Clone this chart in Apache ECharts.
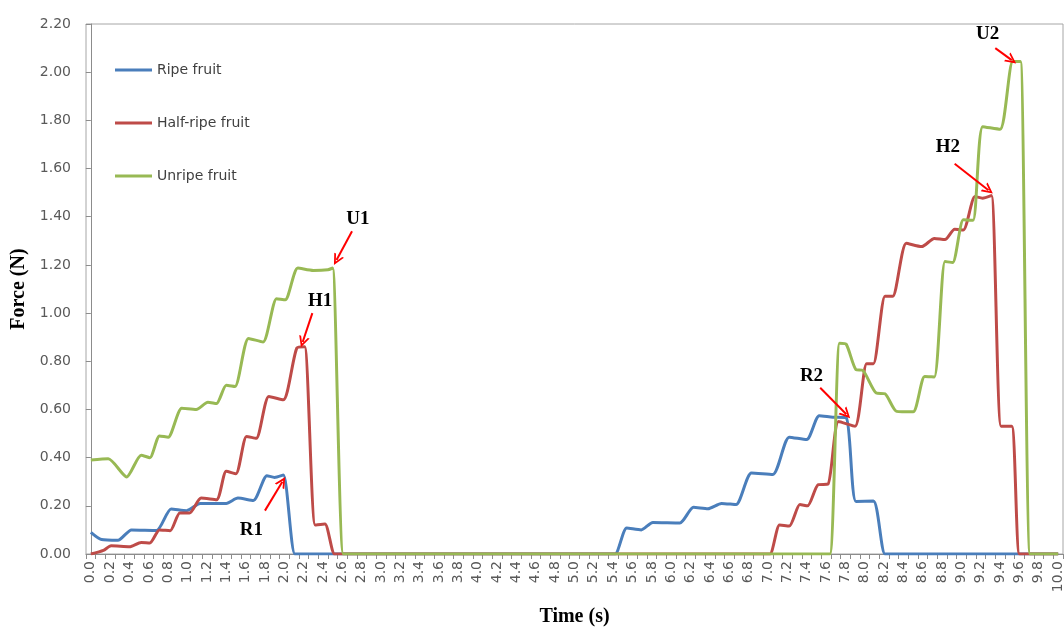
<!DOCTYPE html>
<html>
<head>
<meta charset="utf-8">
<script src="https://cdn.jsdelivr.net/npm/echarts@6.0.0/dist/echarts.min.js"></script>
<style>
  html, body { margin: 0; padding: 0; background: #fff; }
  #main { width: 1064px; height: 628px; }
</style>
</head>
<body>
<div id="main"></div>
<script>
// time labels on x axis (s)
var timeLabels = [0.0, 0.2, 0.4, 0.6, 0.8, 1.0, 1.2, 1.4, 1.6, 1.8, 2.0, 2.2, 2.4, 2.6, 2.8, 3.0, 3.2, 3.4, 3.6, 3.8,
    4.0, 4.2, 4.4, 4.6, 4.8, 5.0, 5.2, 5.4, 5.6, 5.8, 6.0, 6.2, 6.4, 6.6, 6.8, 7.0, 7.2, 7.4, 7.6, 7.8,
    8.0, 8.2, 8.4, 8.6, 8.8, 9.0, 9.2, 9.4, 9.6, 9.8, 10.0];

var seriesNames = ["Ripe fruit", "Half-ripe fruit", "Unripe fruit"];

// [time (s), force (N)]
var ripeData = [[0.00, 0.09], [0.11, 0.06], [0.28, 0.057], [0.42, 0.10], [0.68, 0.098], [0.83, 0.187], [0.99, 0.18],
    [1.13, 0.21], [1.40, 0.21], [1.52, 0.232], [1.68, 0.222], [1.82, 0.325], [1.90, 0.318], [1.99, 0.328], [2.11, 0],
    [2.21, 0], [5.32, 0], [5.42, 0], [5.54, 0.108], [5.69, 0.10], [5.81, 0.131], [6.09, 0.129], [6.23, 0.194],
    [6.38, 0.188], [6.52, 0.21], [6.67, 0.205], [6.83, 0.336], [7.05, 0.33], [7.22, 0.485], [7.40, 0.475],
    [7.53, 0.574], [7.67, 0.568], [7.81, 0.565], [7.91, 0.218], [8.09, 0.22], [8.21, 0], [8.31, 0], [10.0, 0]];

var halfRipeData = [[0.00, 0], [0.13, 0.015], [0.21, 0.034], [0.40, 0.03], [0.52, 0.048], [0.61, 0.046], [0.71, 0.10],
    [0.82, 0.097], [0.92, 0.17], [1.02, 0.17], [1.14, 0.232], [1.30, 0.225], [1.40, 0.343], [1.50, 0.333],
    [1.61, 0.488], [1.71, 0.48], [1.84, 0.654], [1.99, 0.64], [2.13, 0.855], [2.21, 0.86], [2.32, 0.12],
    [2.42, 0.125], [2.52, 0], [2.62, 0], [6.92, 0], [7.02, 0], [7.12, 0.12], [7.22, 0.116], [7.33, 0.205],
    [7.41, 0.2], [7.52, 0.288], [7.62, 0.29], [7.73, 0.55], [7.90, 0.53], [8.02, 0.79], [8.09, 0.79], [8.21, 1.07],
    [8.29, 1.07], [8.43, 1.29], [8.59, 1.276], [8.72, 1.31], [8.83, 1.305], [8.93, 1.348], [9.02, 1.345],
    [9.14, 1.484], [9.22, 1.477], [9.31, 1.488], [9.41, 0.53], [9.52, 0.53], [9.60, 0], [9.70, 0], [10.0, 0]];

var unripeData = [[0.00, 0.39], [0.18, 0.395], [0.37, 0.32], [0.52, 0.41], [0.61, 0.40], [0.71, 0.49], [0.80, 0.485],
    [0.94, 0.605], [1.09, 0.60], [1.21, 0.63], [1.30, 0.625], [1.40, 0.70], [1.49, 0.695], [1.63, 0.895],
    [1.78, 0.88], [1.92, 1.06], [2.01, 1.055], [2.14, 1.187], [2.30, 1.177], [2.45, 1.18], [2.50, 1.187],
    [2.61, 0], [2.71, 0], [7.54, 0], [7.64, 0], [7.74, 0.875], [7.81, 0.87], [7.91, 0.765], [7.98, 0.762],
    [8.12, 0.668], [8.21, 0.665], [8.33, 0.592], [8.50, 0.59], [8.62, 0.737], [8.72, 0.735], [8.83, 1.214],
    [8.91, 1.21], [9.02, 1.387], [9.12, 1.385], [9.22, 1.774], [9.40, 1.763], [9.53, 2.044], [9.61, 2.044],
    [9.71, 0], [9.81, 0], [10.0, 0]];

// peak labels: text position, arrow start, arrow end (data coords)
var peakNotes = [
    { name: "U1", text: [2.76, 1.39], from: [2.70, 1.34], to: [2.54, 1.22] },
    { name: "H1", text: [2.37, 1.05], from: [2.29, 1.00], to: [2.19, 0.88] },
    { name: "R1", text: [1.66, 0.10], from: [1.80, 0.18], to: [1.98, 0.30] },
    { name: "R2", text: [7.45, 0.74], from: [7.54, 0.69], to: [7.81, 0.58] },
    { name: "H2", text: [8.86, 1.69], from: [8.93, 1.62], to: [9.28, 1.51] },
    { name: "U2", text: [9.27, 2.16], from: [9.35, 2.10], to: [9.52, 2.05] }
];

var colors = ["#4A7EBB", "#BE4B48", "#98B954"];
var axisGray = "#8C8C8C";
var labelFont = "DejaVu Sans";
var titleFont = "Liberation Serif";

var tickValues = [];
for (var i = 0; i <= 101; i++) tickValues.push(-0.05 + i * 0.1);

var chart = echarts.init(document.getElementById("main"));

function lineSeries(idx, data) {
    return {
        name: seriesNames[idx],
        type: "line",
        data: data,
        smooth: 0.22,
        showSymbol: false,
        symbol: "none",
        clip: true,
        lineStyle: { width: 3, color: colors[idx] },
        itemStyle: { color: colors[idx] },
        z: 2 + idx
    };
}

var notes = lineSeries(2, unripeData);
notes.markPoint = {
    symbol: "rect",
    symbolSize: 1,
    silent: true,
    itemStyle: { color: "rgba(0,0,0,0)" },
    label: {
        show: true,
        position: "inside",
        formatter: function (p) { return p.name; },
        color: "#000",
        fontFamily: titleFont,
        fontWeight: "bold",
        fontSize: 19
    },
    data: peakNotes.map(function (n) { return { name: n.name, coord: n.text }; })
};
notes.markLine = {
    silent: true,
    symbol: ["none", "path://M0,10 L5,0 L10,10 L8.2,10 L5,3.6 L1.8,10 Z"],
    symbolSize: 11,
    label: { show: false },
    lineStyle: { color: "#FF0000", width: 2, type: "solid" },
    emphasis: { disabled: true },
    data: peakNotes.map(function (n) { return [{ coord: n.from }, { coord: n.to }]; })
};

var option = {
    animation: false,
    backgroundColor: "#fff",
    grid: {
        left: 86, right: 1, top: 24, bottom: 74,
        outerBoundsMode: "none",
        show: true, borderColor: "#A6A6A6", borderWidth: 1
    },
    legend: {
        orient: "vertical",
        left: 110,
        top: 58,
        itemGap: 39,
        itemWidth: 37,
        itemHeight: 3,
        icon: "rect",
        data: seriesNames,
        textStyle: { fontFamily: labelFont, fontSize: 14, color: "#404040" }
    },
    xAxis: {
        type: "value",
        min: -0.05,
        max: 10.05,
        name: "Time (s)",
        nameLocation: "middle",
        nameGap: 53,
        nameTextStyle: { fontFamily: titleFont, fontWeight: "bold", fontSize: 20, color: "#000" },
        axisLine: { lineStyle: { color: axisGray } },
        axisTick: { customValues: tickValues, length: 5, lineStyle: { color: axisGray } },
        axisLabel: {
            customValues: timeLabels,
            rotate: 90,
            margin: 7,
            fontFamily: labelFont,
            fontSize: 14,
            color: "#595959",
            formatter: function (v) { return v.toFixed(1); }
        },
        splitLine: { show: false }
    },
    yAxis: {
        type: "value",
        min: 0,
        max: 2.2,
        interval: 0.2,
        name: "Force (N)",
        nameLocation: "middle",
        nameGap: 41,
        nameTextStyle: { fontFamily: titleFont, fontWeight: "bold", fontSize: 20, color: "#000" },
        axisLine: { show: true, lineStyle: { color: axisGray } },
        axisTick: { show: true, length: 5, lineStyle: { color: axisGray } },
        axisLabel: {
            margin: 15,
            fontFamily: labelFont,
            fontSize: 14,
            color: "#595959",
            formatter: function (v) { return v.toFixed(2); }
        },
        splitLine: { show: false }
    },
    series: [
        lineSeries(0, ripeData),
        lineSeries(1, halfRipeData),
        notes
    ]
};

chart.setOption(option);
</script>
</body>
</html>
